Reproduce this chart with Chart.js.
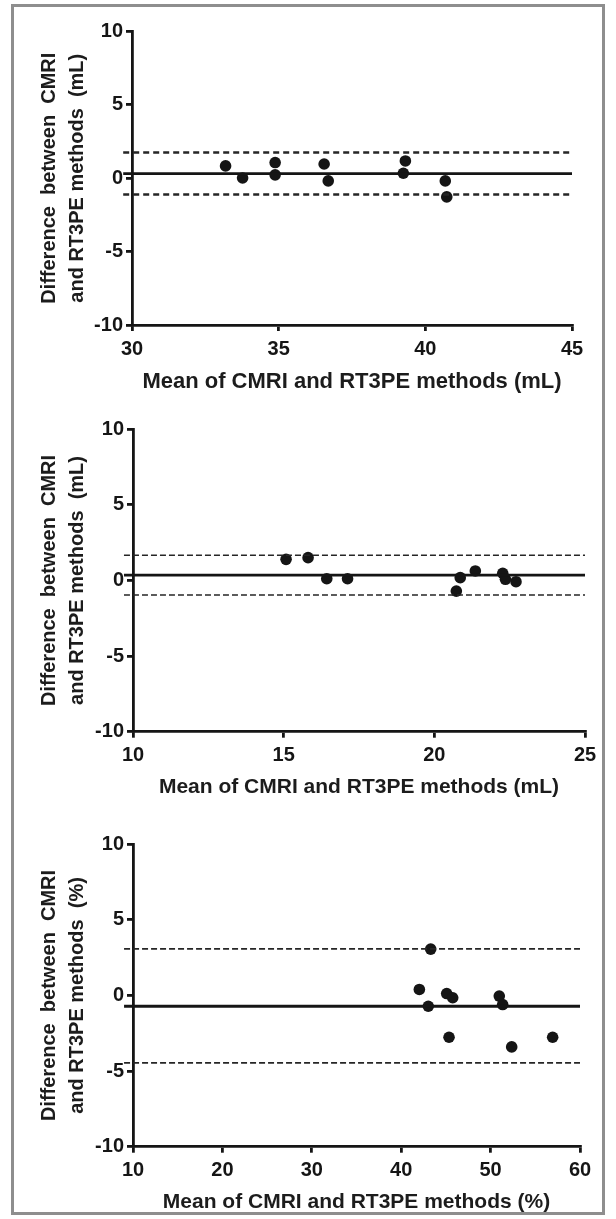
<!DOCTYPE html>
<html>
<head>
<meta charset="utf-8">
<script src="https://cdn.jsdelivr.net/npm/chart.js@4.4.1/dist/chart.umd.min.js"></script>
<style>
  body { margin: 0; background: #fff; width: 616px; height: 1219px; position: relative; overflow: hidden; }
  #frame { position: absolute; left: 11px; top: 4px; width: 594px; height: 1211px; border: 3px solid #8e8e8e; box-sizing: border-box; }
  .panel { position: absolute; left: 0; }
</style>
</head>
<body>
<div id="frame"></div>
<canvas id="c1" class="panel" style="top:0px" width="616" height="400"></canvas>
<canvas id="c2" class="panel" style="top:400px" width="616" height="405"></canvas>
<canvas id="c3" class="panel" style="top:805px" width="616" height="414"></canvas>

<script>
// ---- panel 1 : volumes (mL), x 30..45
const p1MeanX = [33.19, 33.77, 34.88, 34.88, 36.55, 36.69, 39.25, 39.32, 40.68, 40.73];
const p1Diff  = [0.84, 0.02, 1.07, 0.23, 0.97, -0.18, 0.34, 1.18, -0.18, -1.27];
const p1Bias = 0.32;
const p1Limits = [1.75, -1.11];
const p1XTicks = [30, 35, 40, 45];

// ---- panel 2 : volumes (mL), x 10..25
const p2MeanX = [15.08, 15.81, 16.43, 17.12, 20.73, 20.86, 21.36, 22.27, 22.36, 22.71];
const p2Diff  = [1.40, 1.51, 0.12, 0.12, -0.70, 0.19, 0.63, 0.48, 0.08, -0.08];
const p2Bias = 0.36;
const p2Limits = [1.67, -0.96];
const p2XTicks = [10, 15, 20, 25];

// ---- panel 3 : percent, x 10..60
const p3MeanX = [43.3, 42.03, 43.03, 45.09, 45.76, 45.35, 50.97, 51.35, 52.36, 56.94];
const p3Diff  = [3.07, 0.40, -0.71, 0.13, -0.15, -2.76, -0.04, -0.60, -3.40, -2.76];
const p3Bias = -0.71;
const p3Limits = [3.09, -4.46];
const p3XTicks = [10, 20, 30, 40, 50, 60];

const yTicks = [-10, -5, 0, 5, 10];
const yTitle = (unit) => ["Difference  between  CMRI", "and RT3PE methods  (" + unit + ")"];
const xTitle = (unit) => "Mean of CMRI and RT3PE methods (" + unit + ")";

const ink = "#151515";
const fontFam = "'Liberation Sans', Arial, sans-serif";

function makePanel(id, xs, ys, bias, limits, xTicks, unit, geo) {
  const xMin = xTicks[0];
  const xMax = xTicks[xTicks.length - 1];
  const stub = (xMax - xMin) * 0.02; // lines poke just past the y axis
  const span = (v) => [{ x: xMin - stub, y: v }, { x: xMax, y: v }];

  new Chart(document.getElementById(id), {
    type: "scatter",
    data: {
      datasets: [
        {
          type: "line", data: span(limits[0]), borderColor: "#262626", borderWidth: geo.dashW,
          borderDash: geo.dash, pointRadius: 0, clip: false,
        },
        {
          type: "line", data: span(limits[1]), borderColor: "#262626", borderWidth: geo.dashW,
          borderDash: geo.dash, pointRadius: 0, clip: false,
        },
        {
          type: "line", data: span(bias), borderColor: ink, borderWidth: 2.8,
          pointRadius: 0, clip: false,
        },
        {
          data: xs.map((x, i) => ({ x: x, y: ys[i] })),
          backgroundColor: ink, borderColor: ink, pointRadius: 5.8, borderWidth: 0,
        },
      ],
    },
    options: {
      responsive: false,
      animation: false,
      events: [],
      layout: { padding: { top: geo.top, right: geo.right, left: geo.left, bottom: 0 } },
      plugins: { legend: { display: false }, tooltip: { enabled: false } },
      scales: {
        x: {
          type: "linear", min: xMin, max: xMax,
          afterBuildTicks: (s) => { s.ticks = xTicks.map((v) => ({ value: v })); },
          afterFit: (s) => { s.height = geo.xh; },
          border: { display: true, color: ink, width: 2.8 },
          grid: { drawOnChartArea: false, drawTicks: true, tickLength: 6, color: ink, lineWidth: 2.8 },
          ticks: { color: ink, padding: 6, font: { family: fontFam, size: 20, weight: "bold" } },
          title: {
            display: true, text: xTitle(unit), color: "#1c1c1c",
            padding: { top: 0, bottom: geo.xtPad },
            font: { family: fontFam, size: geo.xtSize, weight: "bold", lineHeight: 1.2 },
          },
        },
        y: {
          type: "linear", min: -10, max: 10,
          afterBuildTicks: (s) => { s.ticks = yTicks.map((v) => ({ value: v })); },
          afterFit: (s) => { s.width = geo.yw; },
          border: { display: true, color: ink, width: 2.8 },
          grid: { drawOnChartArea: false, drawTicks: true, tickLength: 6, color: ink, lineWidth: 2.8 },
          ticks: { color: ink, padding: 3, font: { family: fontFam, size: 20, weight: "bold" } },
          title: {
            display: true, text: yTitle(unit), color: "#1c1c1c",
            padding: { top: 0, bottom: 0 },
            font: { family: fontFam, size: 20, weight: "bold", lineHeight: 1.4 },
          },
        },
      },
    },
  });
}

makePanel("c1", p1MeanX, p1Diff, p1Bias, p1Limits, p1XTicks, "mL",
  { top: 31.5, right: 44, left: 35, yw: 97, xh: 75, xtPad: 5, xtSize: 22, dashW: 2.6, dash: [6, 4] });
makePanel("c2", p2MeanX, p2Diff, p2Bias, p2Limits, p2XTicks, "mL",
  { top: 29.3, right: 31, left: 35, yw: 98, xh: 73.3, xtPad: 5.5, xtSize: 21, dashW: 1.7, dash: [6, 3] });
makePanel("c3", p3MeanX, p3Diff, p3Bias, p3Limits, p3XTicks, "%",
  { top: 39.3, right: 36, left: 35, yw: 98, xh: 72.3, xtPad: 4.5, xtSize: 21, dashW: 1.7, dash: [6, 3] });
</script>
</body>
</html>
